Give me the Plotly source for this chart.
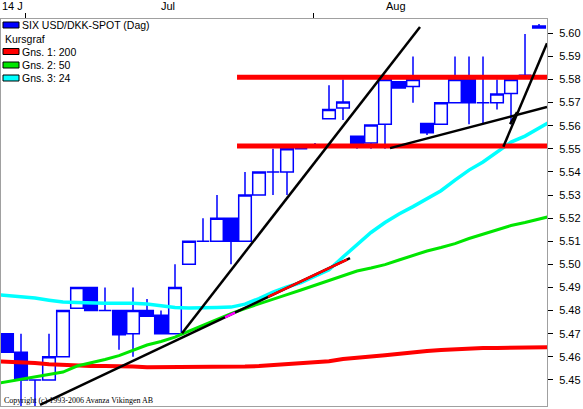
import plotly.graph_objects as go

# ---------------- data ----------------
day_idx = list(range(39))
open_ = [5.470, 5.462, 5.450, 5.450, 5.460, 5.481, 5.490, 5.480, 5.480, 5.470,
         5.480, 5.478, 5.470, 5.500, 5.510, 5.510, 5.520, 5.510, 5.530, 5.540,
         5.540, 5.550, 5.551, 5.563, 5.5677, 5.5555, 5.5525, 5.5607, 5.579, 5.577,
         5.561, 5.5607, 5.570, 5.580, 5.570, 5.570, 5.574, 5.5819, 5.6023]
high = [5.470, 5.470, 5.450, 5.470, 5.480, 5.490, 5.490, 5.490, 5.480, 5.490,
        5.485, 5.480, 5.500, 5.510, 5.520, 5.530, 5.520, 5.540, 5.540, 5.550,
        5.550, 5.550, 5.5525, 5.5775, 5.580, 5.5555, 5.5603, 5.580, 5.579, 5.590,
        5.561, 5.570, 5.590, 5.590, 5.590, 5.580, 5.580, 5.5997, 5.604]
low = [5.462, 5.438, 5.438, 5.450, 5.460, 5.481, 5.480, 5.480, 5.463, 5.460,
       5.4775, 5.470, 5.470, 5.500, 5.510, 5.510, 5.500, 5.510, 5.530, 5.530,
       5.530, 5.550, 5.551, 5.563, 5.5625, 5.550, 5.550, 5.550, 5.5763, 5.570,
       5.556, 5.5607, 5.570, 5.5607, 5.5607, 5.567, 5.5607, 5.5819, 5.6023]
close = [5.462, 5.450, 5.450, 5.460, 5.480, 5.490, 5.480, 5.480, 5.4695, 5.480,
         5.4775, 5.470, 5.490, 5.510, 5.510, 5.520, 5.510, 5.530, 5.540, 5.540,
         5.550, 5.550, 5.551, 5.567, 5.5703, 5.5516, 5.5603, 5.580, 5.5763, 5.580,
         5.557, 5.570, 5.580, 5.570, 5.570, 5.5737, 5.580, 5.5819, 5.6032]

# moving averages, one value per day, plus one reading just past each edge
ma_idx = list(range(-1, 40))
ma200 = [5.4581, 5.4579, 5.4577, 5.4573, 5.4568, 5.4564, 5.4562, 5.4560, 5.4560, 5.4560,
         5.4558, 5.4555, 5.4555, 5.4555, 5.4555, 5.4555, 5.4555, 5.4555, 5.4558, 5.4560,
         5.4564, 5.4568, 5.4573, 5.4573, 5.4581, 5.4590, 5.4594, 5.4601, 5.4607, 5.4614,
         5.4620, 5.4625, 5.4629, 5.4633, 5.4638, 5.4638, 5.4638, 5.4638, 5.4640, 5.4640,
         5.4642]
ma50 = [5.4482, 5.4493, 5.4501, 5.4512, 5.4523, 5.4534, 5.4560, 5.4573, 5.4588, 5.4605,
        5.4629, 5.4651, 5.4666, 5.4685, 5.4711, 5.4737, 5.4763, 5.4787, 5.4809, 5.4828,
        5.4850, 5.4869, 5.4889, 5.4910, 5.4930, 5.4952, 5.4971, 5.4984, 5.4999, 5.5019,
        5.5040, 5.5058, 5.5073, 5.5090, 5.5112, 5.5131, 5.5151, 5.5168, 5.5181, 5.5196,
        5.5211]
ma24 = [5.4871, 5.4865, 5.4861, 5.4854, 5.4845, 5.4837, 5.4835, 5.4832, 5.4832, 5.4832,
        5.4832, 5.4828, 5.4819, 5.4813, 5.4811, 5.4811, 5.4813, 5.4815, 5.4828, 5.4852,
        5.4880, 5.4902, 5.4921, 5.4949, 5.4977, 5.5032, 5.5084, 5.5138, 5.5181, 5.5218,
        5.5250, 5.5283, 5.5319, 5.5365, 5.5408, 5.5443, 5.5488, 5.5529, 5.5555, 5.5592,
        5.5625]

# drawn support / resistance levels and trend lines (day index, price)
level_prices = [5.5810, 5.5512]
level_start = 16.43
trend_A = ([2.36, 24.5], [5.4392, 5.5027])
trend_B = ([12.5, 29.5], [5.4702, 5.6027])
trend_C = ([27.36, 38.57], [5.5503, 5.5681])
trend_D = ([35.45, 38.57], [5.5509, 5.5957])
trend_E = ([35.93, 36.43], [5.5607, 5.5659])
trend_A_red = (18.64, 24.29)       # part of line A drawn over the 24-day average
trend_A_mag = (15.57, 16.29)       # part of line A drawn over the 50-day average

y_ticks = [5.45, 5.46, 5.47, 5.48, 5.49, 5.50, 5.51, 5.52, 5.53, 5.54,
           5.55, 5.56, 5.57, 5.58, 5.59, 5.60]
top_tick_idx = [1.29, 21.86]
month_labels = ["14 J", "Jul", "Aug"]
month_label_idx = [-0.5, 11.5, 27.8]

legend_title = "SIX USD/DKK-SPOT (Dag)"
legend_items = ["Gns. 1: 200", "Gns. 2: 50", "Gns. 3: 24"]
copyright_text = "Copyright (c) 1993-2006 Avanza Vikingen AB"

# ---------------- styling ----------------
BLUE = "#0000FF"
RED = "#FF0000"
GREEN = "#00E600"
CYAN = "#00FFFF"
GRAY = "#A0A0A0"
FONT = "Liberation Sans"

PLOT_L, PLOT_R, PLOT_T, PLOT_B = 1, 547, 19, 406
W, H = 583, 409
X_RANGE = [-0.4286, 38.571]
Y_RANGE = [5.4387, 5.6062]
SLOT_PX = 14.0
FIRST_PX = 7.0


def px(x):
    return (x - PLOT_L) / (PLOT_R - PLOT_L)


def py(y):
    return (PLOT_B - y) / (PLOT_B - PLOT_T)


def idx_to_paper(i):
    return px(FIRST_PX + SLOT_PX * i)


def on_line(line, x):
    (x0, x1), (y0, y1) = line
    return y0 + (y1 - y0) * (x - x0) / (x1 - x0)


fig = go.Figure()

fig.add_trace(go.Candlestick(
    x=day_idx, open=open_, high=high, low=low, close=close,
    increasing=dict(line=dict(color=BLUE, width=1.5), fillcolor="white"),
    decreasing=dict(line=dict(color=BLUE, width=1.5), fillcolor=BLUE),
    whiskerwidth=0, showlegend=False, hoverinfo="skip",
))

for vals, col, w in [(ma200, RED, 4), (ma50, GREEN, 3), (ma24, CYAN, 3.5)]:
    fig.add_trace(go.Scatter(x=ma_idx, y=vals, mode="lines",
                             line=dict(color=col, width=w),
                             showlegend=False, hoverinfo="skip"))

for lv in level_prices:
    fig.add_trace(go.Scatter(x=[level_start, X_RANGE[1] + 1], y=[lv, lv], mode="lines",
                             line=dict(color=RED, width=5),
                             showlegend=False, hoverinfo="skip"))

for tl in [trend_A, trend_B, trend_C, trend_D, trend_E]:
    fig.add_trace(go.Scatter(x=tl[0], y=tl[1], mode="lines",
                             line=dict(color="black", width=2.5),
                             showlegend=False, hoverinfo="skip"))

for (a, b), col in [(trend_A_red, RED), (trend_A_mag, "#FF00FF")]:
    fig.add_trace(go.Scatter(x=[a, b], y=[on_line(trend_A, a), on_line(trend_A, b)],
                             mode="lines", line=dict(color=col, width=2.5),
                             showlegend=False, hoverinfo="skip"))

annotations = []
shapes = []

# month labels above the plot
for lab, xi in zip(month_labels, month_label_idx):
    annotations.append(dict(
        x=idx_to_paper(xi), y=py(6), xref="paper", yref="paper", text=lab, showarrow=False,
        xanchor="left" if lab == month_labels[0] else "center", yanchor="middle",
        font=dict(family=FONT, size=11, color="black")))

# legend block
LEG_FONT = dict(family=FONT, size=10.5, color="black")
rows_y = [25, 39, 51.5, 65, 78]
annotations.append(dict(x=px(20), y=py(rows_y[0]), xref="paper", yref="paper",
                        text=legend_title, showarrow=False, xanchor="left", yanchor="middle",
                        font=LEG_FONT))
annotations.append(dict(x=px(3), y=py(rows_y[1]), xref="paper", yref="paper",
                        text="Kursgraf", showarrow=False, xanchor="left", yanchor="middle",
                        font=LEG_FONT))
for lab, ry in zip(legend_items, rows_y[2:]):
    annotations.append(dict(x=px(20), y=py(ry), xref="paper", yref="paper",
                            text=lab, showarrow=False, xanchor="left", yanchor="middle",
                            font=LEG_FONT))
for col, ry in zip([BLUE, RED, GREEN, CYAN], [rows_y[0]] + rows_y[2:]):
    shapes.append(dict(type="rect", xref="paper", yref="paper",
                       x0=px(3), x1=px(19), y0=py(ry + 3), y1=py(ry - 3),
                       fillcolor=col, line=dict(color="black", width=1)))

annotations.append(dict(x=px(2), y=py(400.5), xref="paper", yref="paper",
                        text=copyright_text, showarrow=False, xanchor="left", yanchor="middle",
                        font=dict(family="Liberation Serif", size=8, color="black")))

fig.update_layout(
    width=W, height=H,
    margin=dict(l=PLOT_L, r=W - PLOT_R, t=PLOT_T, b=H - PLOT_B, pad=0),
    paper_bgcolor="white", plot_bgcolor="white",
    boxgap=0.1, boxgroupgap=0,
    showlegend=False,
    annotations=annotations, shapes=shapes,
    xaxis=dict(range=X_RANGE, side="top", showgrid=False, zeroline=False,
               showline=True, mirror=True, linecolor=GRAY, linewidth=1,
               tickvals=top_tick_idx, ticks="outside", ticklen=5, tickcolor="black",
               showticklabels=False, rangeslider=dict(visible=False), fixedrange=True),
    yaxis=dict(range=Y_RANGE, side="right", showgrid=False, zeroline=False,
               showline=True, mirror=True, linecolor=GRAY, linewidth=1,
               tickvals=y_ticks, tickformat=".2f", ticks="outside", ticklen=5,
               tickcolor="black", ticklabelstandoff=4,
               tickfont=dict(family=FONT, size=11, color="black"), fixedrange=True),
)

fig.write_html("out.html", config={"displayModeBar": False},
               post_script="document.body.style.margin='0';"
                           "document.body.style.overflow='hidden';")
